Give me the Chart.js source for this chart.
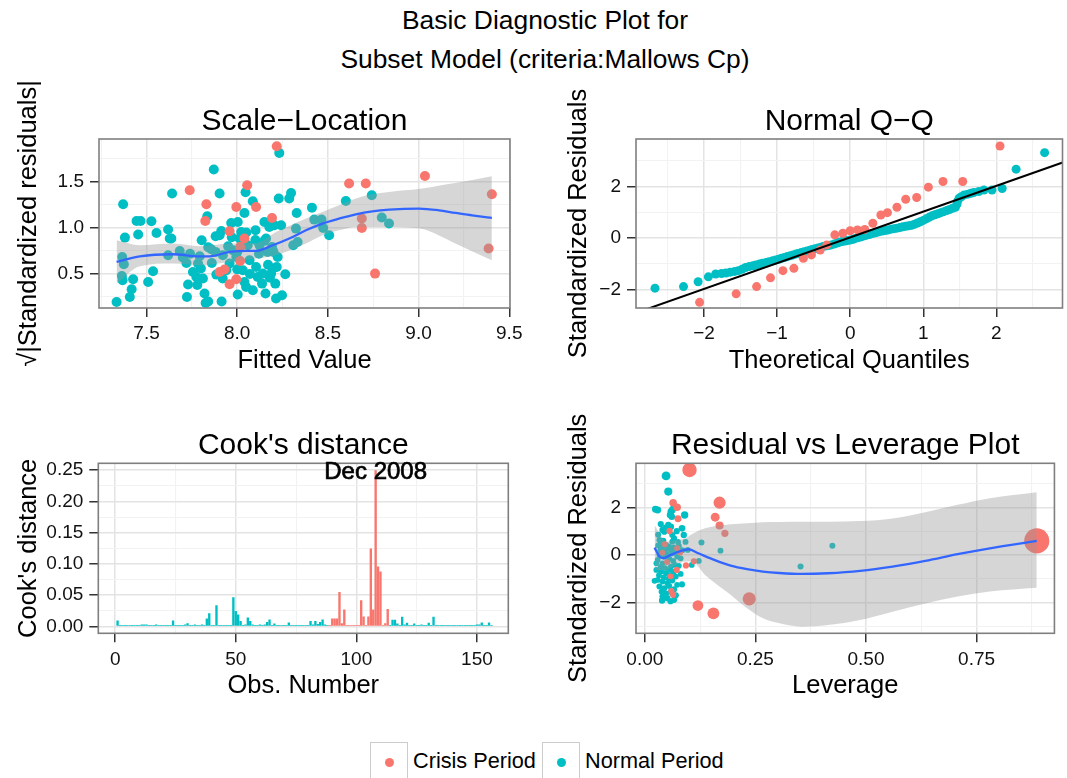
<!DOCTYPE html>
<html>
<head>
<meta charset="utf-8">
<title>Basic Diagnostic Plot</title>
<script src="https://cdn.jsdelivr.net/npm/chart.js"></script>
<style>
  body { margin: 0; background: #fff; width: 1067px; height: 778px; overflow: hidden; position: relative;
         font-family: 'Liberation Sans', Arial, sans-serif; }
  canvas { position: absolute; }
  .main { position: absolute; left: 545px; transform: translateX(-50%); white-space: nowrap;
          font-size: 26.4px; line-height: 1; color: #000; }
  .key { position: absolute; width: 38px; height: 40px; border: 1.4px solid #cccccc; box-sizing: border-box; background: #fff; }
  .key i { position: absolute; left: 13.5px; top: 14.5px; width: 9px; height: 9px; border-radius: 50%; }
  .lab { position: absolute; font-size: 21.7px; line-height: 1; color: #000; white-space: nowrap; }
</style>
</head>
<body>
<div class="main" style="top:7px">Basic Diagnostic Plot for</div>
<div class="main" style="top:46px">Subset Model (criteria:Mallows Cp)</div>

<canvas id="slChart" width="530" height="325" style="left:0;top:60px"></canvas>
<canvas id="qqChart" width="512" height="325" style="left:555px;top:60px"></canvas>
<canvas id="cookChart" width="530" height="315" style="left:0;top:395px"></canvas>
<canvas id="levChart" width="512" height="315" style="left:555px;top:395px"></canvas>

<script>
// ---------- data ----------
const periods = ['Crisis Period', 'Normal Period'];

// Scale-Location: [fitted value, sqrt(|standardized residual|)]
const slCrisis = [[7.738,1.410],[7.830,1.258],[7.824,1.076],[7.958,0.964],[7.995,1.228],[8.040,0.885],[8.055,1.464],[8.104,1.228],
  [8.192,1.109],[8.218,1.888],[8.016,0.793],[8.016,0.641],[7.930,0.548],[7.903,0.522],[7.958,0.388],[7.995,0.442],[8.617,1.483],
  [8.709,1.483],[8.687,1.102],[8.687,1.000],[8.760,0.504],[9.035,1.565],[9.404,1.366],[9.386,0.776]];
const slNormal = [[7.335,0.196],[7.371,1.258],[7.381,0.895],[7.366,0.685],[7.375,0.605],[7.364,0.478],[7.368,0.432],[7.408,0.250],
  [7.418,0.334],[7.426,0.442],[7.445,1.076],[7.467,1.076],[7.454,0.928],[7.527,1.073],[7.555,0.946],[7.509,0.413],[7.536,0.529],
  [7.619,0.983],[7.628,0.885],[7.637,0.885],[7.619,0.703],[7.641,1.374],[7.683,0.750],[7.720,0.620],[7.729,0.385],[7.723,0.250],
  [7.804,0.866],[7.756,0.522],[7.775,0.467],[7.784,0.613],[7.793,0.692],[7.811,0.450],[7.820,0.287],[7.826,0.185],[7.840,0.200],
  [7.835,1.127],[7.857,0.768],[7.871,1.635],[7.881,0.910],[7.903,1.374],[7.912,0.967],[7.903,0.921],[7.885,0.493],[7.914,0.200],
  [7.921,0.703],[7.940,0.540],[7.958,0.613],[7.967,1.054],[7.976,0.758],[7.995,0.685],[8.003,1.065],[8.003,0.276],[8.013,0.885],
  [8.022,0.957],[8.031,0.540],[8.040,0.413],[8.046,1.388],[8.040,1.163],[8.049,0.359],[8.058,0.812],[8.068,0.649],[8.086,1.290],
  [8.086,0.323],[8.101,0.975],[8.104,0.576],[8.113,0.467],[8.123,0.812],[8.137,0.395],[8.141,0.504],[8.150,1.065],[8.156,0.287],
  [8.159,0.885],[8.168,0.739],[8.177,1.011],[8.187,0.504],[8.192,0.793],[8.196,0.559],[8.205,1.029],[8.210,0.395],[8.214,0.233],
  [8.218,0.576],[8.223,0.685],[8.229,1.320],[8.232,1.815],[8.242,1.029],[8.247,0.268],[8.265,0.497],[8.287,1.320],[8.297,1.380],
  [8.309,0.812],[8.324,0.993],[8.328,1.163],[8.333,0.848],[8.412,1.221],[8.425,1.091],[8.465,1.091],[8.474,1.000],[8.507,0.921],
  [8.599,1.293],[8.742,1.355],[8.797,1.113],[8.837,1.048],[7.800,0.560],[7.840,0.790],[7.860,0.620],[7.880,0.740],[7.920,0.450],
  [7.950,0.800],[7.970,0.900],[8.000,0.550],[8.000,0.740],[8.050,0.950],[8.070,0.500],[8.100,0.870],[8.120,0.720],[8.150,0.860],
  [8.170,0.600],[8.180,0.460],[8.200,0.740],[7.780,0.380],[7.740,0.720],[7.700,0.680]];
const slFitX = [7.335,7.463,7.646,7.793,7.848,7.958,8.049,8.104,8.196,8.287,8.379,8.470,8.562,8.654,8.745,8.837,9.002,9.112,9.203,9.295,9.404];
const slFitY = [0.631,0.692,0.714,0.692,0.692,0.739,0.750,0.750,0.812,0.885,0.975,1.048,1.102,1.149,1.181,1.199,1.210,1.192,1.163,1.138,1.109];
const slBandX = [7.335,7.463,7.646,7.793,7.958,8.104,8.214,8.379,8.470,8.562,8.654,8.745,8.837,9.010,9.110,9.203,9.404];
const slBandHi = [0.866,0.812,0.830,0.801,0.830,0.837,0.957,1.102,1.174,1.246,1.320,1.366,1.392,1.425,1.460,1.489,1.562];
const slBandLo = [0.395,0.584,0.613,0.595,0.631,0.667,0.703,0.830,0.921,0.975,1.011,1.011,1.011,0.993,0.921,0.830,0.649];

// Normal Q-Q: [theoretical quantile, standardized residual]
const qqCrisis = [[-2.06,-2.50],[-1.56,-2.17],[-1.28,-1.89],[-1.09,-1.55],[-0.92,-1.27],[-0.77,-1.18],[-0.64,-0.79],[-0.53,-0.66],
  [-0.41,-0.47],[-0.32,-0.27],[-0.21,0.12],[-0.10,0.18],[0.00,0.28],[0.10,0.31],[0.20,0.33],[0.31,0.57],[0.42,0.89],[0.51,0.98],
  [0.64,1.19],[0.76,1.50],[0.91,1.57],[1.07,1.97],[1.27,2.19],[1.54,2.19],[2.05,3.57]];
const qqNormal = [[-2.67,-1.95],[-2.28,-1.89],[-2.08,-1.70],[-1.94,-1.51],[-1.84,-1.40],[-1.76,-1.38],[-1.70,-1.36],[-1.64,-1.33],
  [-1.58,-1.30],[-1.53,-1.27],[-1.48,-1.22],[-1.43,-1.15],[-1.38,-1.11],[-1.33,-1.08],[-1.29,-1.05],[-1.24,-1.01],[-1.20,-0.98],
  [-1.15,-0.95],[-1.11,-0.92],[-1.06,-0.89],[-1.02,-0.86],[-0.98,-0.83],[-0.94,-0.79],[-0.90,-0.76],[-0.86,-0.72],[-0.82,-0.69],
  [-0.78,-0.66],[-0.74,-0.62],[-0.71,-0.60],[-0.67,-0.57],[-0.63,-0.54],[-0.59,-0.51],[-0.55,-0.48],[-0.52,-0.45],[-0.48,-0.42],
  [-0.44,-0.39],[-0.40,-0.36],[-0.37,-0.33],[-0.33,-0.31],[-0.29,-0.29],[-0.26,-0.27],[-0.22,-0.24],[-0.18,-0.20],[-0.15,-0.17],
  [-0.11,-0.14],[-0.07,-0.12],[-0.04,-0.10],[0.00,-0.08],[0.04,-0.05],[0.07,-0.02],[0.11,0.01],[0.15,0.04],[0.18,0.07],[0.22,0.10],
  [0.26,0.13],[0.29,0.16],[0.33,0.19],[0.37,0.22],[0.40,0.25],[0.44,0.27],[0.48,0.29],[0.52,0.31],[0.56,0.34],[0.60,0.36],
  [0.64,0.38],[0.68,0.40],[0.72,0.43],[0.76,0.45],[0.80,0.47],[0.84,0.49],[0.88,0.53],[0.92,0.58],[0.96,0.63],[1.00,0.68],
  [1.04,0.74],[1.08,0.80],[1.12,0.86],[1.16,0.90],[1.20,0.94],[1.24,0.98],[1.28,1.02],[1.32,1.06],[1.36,1.10],[1.40,1.15],
  [1.44,1.19],[1.46,1.30],[1.47,1.42],[1.49,1.54],[1.52,1.60],[1.56,1.67],[1.61,1.70],[1.65,1.73],[1.69,1.76],[1.76,1.80],
  [1.83,1.86],[1.94,1.86],[2.08,1.92],[2.27,2.67],[2.66,3.31]];
const qqLineIntercept = 0.02;
const qqLineSlope = 1.0;

// Cook's distance by observation number 1..156
const cooksD = [
  0.0096,0.001,0.001,0.001,0.001,0.001,0.001,0.0016,0.0016,0.001,      // 1-10
  0.003,0.003,0.003,0.001,0.0016,0.001,0.003,0.001,0.001,0.001,        // 11-20
  0.001,0.001,0.001,0.0096,0.001,0.0016,0.001,0.001,0.003,0.005,       // 21-30
  0.001,0.001,0.003,0.001,0.001,0.003,0.001,0.0128,0.021,0.0016,       // 31-40
  0.001,0.0337,0.001,0.001,0.001,0.001,0.001,0.001,0.0465,0.0246,      // 41-50
  0.019,0.0085,0.001,0.003,0.0144,0.0085,0.003,0.001,0.001,0.003,      // 51-60
  0.001,0.003,0.007,0.011,0.001,0.0048,0.0016,0.001,0.0016,0.001,      // 61-70
  0.001,0.0064,0.001,0.001,0.001,0.0016,0.001,0.001,0.001,0.001,       // 71-80
  0.0085,0.003,0.0085,0.004,0.007,0.011,0.003,0.001,0.0016,0.0128,     // 81-90
  0.0128,0.0128,0.055,0.005,0.027,0.0016,0.0016,0.0016,0.0004,0.0004,  // 91-100
  0.0004,0.0417,0.016,0.0004,0.016,0.1245,0.027,0.25,0.096,0.088,      // 101-110
  0.0004,0.005,0.028,0.001,0.0107,0.0107,0.0045,0.001,0.0155,0.003,    // 111-120
  0.006,0.001,0.001,0.0045,0.0016,0.001,0.003,0.0016,0.001,0.006,      // 121-130
  0.001,0.0155,0.001,0.001,0.001,0.001,0.001,0.001,0.001,0.001,        // 131-140
  0.001,0.001,0.001,0.001,0.001,0.0016,0.001,0.001,0.001,0.003,        // 141-150
  0.003,0.0064,0.001,0.001,0.0064,0.001                                // 151-156
];
const crisisFrom = 89, crisisTo = 113;
const cookNote = {obs: 108, text: 'Dec 2008'};

// Residual vs Leverage: [leverage, standardized residual, cook's distance]
const levCrisis = [[0.886,0.59,0.25],[0.101,3.58,0.114],[0.236,-1.85,0.098],[0.169,2.20,0.086],[0.155,-2.46,0.082],
  [0.120,-2.13,0.068],[0.159,1.59,0.044],[0.169,1.24,0.035],[0.181,0.91,0.023],[0.064,2.20,0.028],[0.073,2.01,0.028],
  [0.075,1.52,0.020],[0.056,1.01,0.012],[0.072,-0.63,0.010],[0.093,-0.44,0.010],[0.111,-0.27,0.010],[0.060,-1.52,0.010],
  [0.064,-1.68,0.010],[0.073,0.28,0.008],[0.050,-0.30,0.005],[0.045,0.45,0.005],[0.080,0.10,0.006],[0.058,-0.90,0.005],
  [0.040,0.10,0.004]];
const levNormal = [[0.048,3.33,0.044],[0.053,2.67,0.035],[0.024,1.92,0.02],[0.029,1.89,0.02],[0.059,1.82,0.02],[0.062,1.89,0.02],
  [0.066,2.03,0.02],[0.057,1.68,0.016],[0.061,1.61,0.016],[0.090,1.68,0.025],[0.084,1.12,0.016],[0.088,0.84,0.012],
  [0.040,1.05,0.012],[0.044,0.98,0.01],[0.053,1.26,0.012],[0.059,1.19,0.012],[0.062,0.84,0.008],[0.066,0.70,0.008],
  [0.062,0.56,0.006],[0.033,0.63,0.008],[0.037,0.49,0.006],[0.039,0.32,0.005],[0.048,0.42,0.006],[0.051,0.28,0.005],
  [0.059,0.21,0.005],[0.066,0.32,0.005],[0.070,0.21,0.005],[0.077,0.38,0.006],[0.097,0.21,0.005],[0.128,0.52,0.008],
  [0.171,0.18,0.006],[0.106,-0.42,0.005],[0.122,-0.25,0.005],[0.033,0.00,0.004],[0.044,-0.07,0.004],[0.055,-0.14,0.004],
  [0.062,0.07,0.004],[0.073,-0.07,0.004],[0.081,-0.14,0.004],[0.029,-0.21,0.004],[0.040,-0.35,0.004],[0.051,-0.28,0.004],
  [0.059,-0.49,0.004],[0.068,-0.42,0.004],[0.077,-0.46,0.004],[0.026,-0.63,0.005],[0.037,-0.70,0.005],[0.048,-0.77,0.005],
  [0.059,-0.84,0.005],[0.070,-0.91,0.005],[0.081,-0.80,0.005],[0.029,-1.05,0.006],[0.040,-1.12,0.006],[0.051,-1.19,0.006],
  [0.062,-1.08,0.006],[0.073,-1.26,0.006],[0.084,-1.24,0.008],[0.022,-1.09,0.006],[0.033,-1.33,0.008],[0.044,-1.40,0.008],
  [0.055,-1.31,0.008],[0.066,-1.45,0.008],[0.059,-1.54,0.008],[0.040,-1.75,0.01],[0.051,-1.82,0.01],[0.062,-1.61,0.01],
  [0.066,-1.89,0.01],[0.039,-1.92,0.012],[0.352,-0.49,0.008],[0.424,0.39,0.008],[0.035,0.20,0.004],[0.045,0.15,0.004],
  [0.050,0.05,0.004],[0.055,0.35,0.004],[0.042,0.60,0.005],[0.030,0.40,0.005],[0.036,-0.50,0.004],[0.046,-0.55,0.004],
  [0.056,-0.62,0.004],[0.064,-0.25,0.004],[0.032,-0.85,0.005],[0.043,-0.95,0.005],[0.054,-1.00,0.005],[0.066,-0.70,0.005],
  [0.036,1.30,0.01],[0.047,1.15,0.01],[0.030,0.85,0.008],[0.072,1.00,0.01],[0.075,0.55,0.006],[0.038,-1.55,0.008],
  [0.048,-1.62,0.008],[0.058,-1.95,0.01],[0.070,-1.70,0.01],[0.026,-0.35,0.004],[0.085,0.20,0.005],[0.092,0.55,0.006]];
const levFitX = [0.022,0.033,0.042,0.055,0.077,0.099,0.121,0.157,0.194,0.231,0.267,0.304,0.355,0.414,0.487,0.560,0.634,0.707,0.780,0.886];
const levFitY = [0.31,-0.07,-0.14,-0.03,0.14,0.24,0.07,-0.21,-0.45,-0.60,-0.70,-0.76,-0.80,-0.77,-0.67,-0.49,-0.25,0.03,0.28,0.59];
const levBandX = [0.022,0.037,0.048,0.070,0.092,0.106,0.136,0.194,0.231,0.267,0.304,0.355,0.414,0.487,0.560,0.634,0.707,0.780,0.886];
const levBandHi = [1.26,0.77,0.56,0.63,0.70,0.87,1.12,1.29,1.34,1.38,1.39,1.40,1.40,1.43,1.54,1.80,2.11,2.39,2.64];
const levBandLo = [-0.63,-0.63,-0.63,-0.42,-0.28,-0.28,-0.84,-1.68,-2.25,-2.67,-2.88,-3.02,-2.95,-2.74,-2.39,-2.04,-1.75,-1.54,-1.38];

// axis ticks
const slTicksX = [7.5, 8.0, 8.5, 9.0, 9.5],  slMinorX = [7.25, 7.75, 8.25, 8.75, 9.25];
const slTicksY = [0.5, 1.0, 1.5],            slMinorY = [0.25, 0.75, 1.25, 1.75];
const qqTicksX = [-2, -1, 0, 1, 2],          qqMinorX = [-2.5, -1.5, -0.5, 0.5, 1.5, 2.5];
const qqTicksY = [-2, 0, 2],                 qqMinorY = [-1, 1, 3];
const cookTicksX = [0, 50, 100, 150],        cookMinorX = [25, 75, 125];
const cookTicksY = [0, 0.05, 0.10, 0.15, 0.20, 0.25], cookMinorY = [0.025, 0.075, 0.125, 0.175, 0.225];
const levTicksX = [0, 0.25, 0.5, 0.75],      levMinorX = [0.125, 0.375, 0.625, 0.875];
const levTicksY = [-2, 0, 2],                levMinorY = [-3, -1, 1, 3];

// ---------- styling ----------
const FONT = "'Liberation Sans', Arial, sans-serif";
const RED = '#F8766D', TEAL = '#00BFC4', BLUE = '#3366FF';
const RIBBON = 'rgba(153,153,153,0.4)';

const fmt = d => v => (v < 0 ? '\u2212' : '') + Math.abs(v).toFixed(d);
const pts = arr => arr.map(p => ({x: p[0], y: p[1], c: p[2]}));

function axis(o) {
  const marks = o.major.map(v => ({value: v, mj: true}))
    .concat(o.minor.map(v => ({value: v, mj: false})))
    .sort((a, b) => a.value - b.value);
  const horiz = o.position === 'bottom';
  return {
    type: 'linear',
    position: o.position,
    min: o.min,
    max: o.max,
    offset: false,
    afterBuildTicks: s => { s.ticks = marks.map(t => ({value: t.value, mj: t.mj})); },
    afterFit: s => { if (horiz) s.height = o.size; else s.width = o.size; },
    border: {display: false},
    grid: {
      offset: false,
      drawTicks: true,
      tickLength: 9,
      tickWidth: 1.5,
      color: c => (c.tick && c.tick.mj) ? '#e3e3e3' : '#f2f2f2',
      lineWidth: c => (c.tick && c.tick.mj) ? 1.5 : 1.1,
      tickColor: c => (c.tick && c.tick.mj) ? '#333333' : 'rgba(0,0,0,0)'
    },
    ticks: {
      autoSkip: false,
      maxRotation: 0,
      padding: horiz ? 7.5 : 6,
      color: '#111111',
      font: {family: FONT, size: 19, lineHeight: 1},
      callback: (v, i, ticks) => ticks[i].mj ? o.fmt(v) : ''
    },
    title: {
      display: true,
      text: o.title,
      color: '#000000',
      font: {family: FONT, size: 25.5, lineHeight: 1},
      padding: horiz ? {top: 0, bottom: 11} : {top: o.titlePad, bottom: 0}
    }
  };
}

// panel border, panel title and the optional text label
const panelDecor = {
  id: 'panelDecor',
  afterDraw(chart, args, opts) {
    const {ctx, chartArea: a} = chart;
    ctx.save();
    ctx.strokeStyle = '#7f7f7f';
    ctx.lineWidth = 1.6;
    ctx.strokeRect(a.left, a.top, a.right - a.left, a.bottom - a.top);
    ctx.fillStyle = '#000';
    ctx.textAlign = 'center';
    ctx.textBaseline = 'alphabetic';
    ctx.font = '30px ' + FONT;
    ctx.fillText(opts.title, (a.left + a.right) / 2, a.top - 9);
    if (opts.note) {
      const x = chart.scales.x.getPixelForValue(opts.note.x);
      const y = chart.scales.y.getPixelForValue(opts.note.y);
      ctx.font = '24px ' + FONT;
      ctx.textBaseline = 'middle';
      ctx.strokeStyle = '#000';
      ctx.lineWidth = 0.7;
      ctx.fillText(opts.note.text, x, y + 2);
      ctx.strokeText(opts.note.text, x, y + 2);
    }
    ctx.restore();
  }
};

function curve(xs, ys, extra) {
  return Object.assign({
    type: 'scatter',
    data: xs.map((x, i) => ({x: x, y: ys[i]})),
    showLine: true,
    pointRadius: 0,
    borderWidth: 0,
    borderColor: 'rgba(0,0,0,0)',
    fill: false,
    cubicInterpolationMode: 'monotone'
  }, extra);
}

function dots(arr, color, radius, order) {
  return {type: 'scatter', data: pts(arr), backgroundColor: color, borderColor: color,
          borderWidth: 0, pointRadius: radius, order: order};
}

function options(pad, x, y, title, note) {
  return {
    responsive: false, animation: false, devicePixelRatio: 1, events: [],
    layout: {padding: pad},
    plugins: {legend: {display: false}, tooltip: {enabled: false}, panelDecor: {title: title, note: note}},
    scales: {x: x, y: y}
  };
}

// ---------- Scale-Location ----------
new Chart(document.getElementById('slChart'), {
  type: 'scatter',
  data: {datasets: [
    curve(slBandX, slBandHi, {fill: '+1', backgroundColor: RIBBON, order: 2}),
    curve(slBandX, slBandLo, {order: 2}),
    curve(slFitX, slFitY, {borderColor: BLUE, borderWidth: 2.3, order: 1}),
    dots(slNormal, TEAL, 5, 4),
    dots(slCrisis, RED, 5, 3)
  ]},
  options: options({left: 0, right: 18, top: 79, bottom: 0},
    axis({position: 'bottom', min: 7.238, max: 9.504, major: slTicksX, minor: slMinorX, fmt: fmt(1), title: 'Fitted Value', size: 77}),
    axis({position: 'left', min: 0.13, max: 1.967, major: slTicksY, minor: slMinorY, fmt: fmt(1),
          title: '\u221A|Standardized residuals|', size: 99, titlePad: 16}),
    'Scale\u2212Location'),
  plugins: [panelDecor]
});

// ---------- Normal Q-Q ----------
const qqLineX = [-3.5, 3.5];
new Chart(document.getElementById('qqChart'), {
  type: 'scatter',
  data: {datasets: [
    curve(qqLineX, qqLineX.map(x => qqLineIntercept + qqLineSlope * x),
          {borderColor: '#000', borderWidth: 2, cubicInterpolationMode: 'default', order: 1}),
    dots(qqNormal, TEAL, 4.5, 4),
    dots(qqCrisis, RED, 4.5, 3)
  ]},
  options: options({left: 0, right: 0.3, top: 79, bottom: 0},
    axis({position: 'bottom', min: -2.93, max: 2.905, major: qqTicksX, minor: qqMinorX, fmt: fmt(0), title: 'Theoretical Quantiles', size: 77}),
    axis({position: 'left', min: -2.72, max: 3.84, major: qqTicksY, minor: qqMinorY, fmt: fmt(0),
          title: 'Standardized Residuals', size: 81, titlePad: 11}),
    'Normal Q\u2212Q'),
  plugins: [panelDecor]
});

// ---------- Cook's distance ----------
new Chart(document.getElementById('cookChart'), {
  type: 'bar',
  data: {datasets: [{
    data: cooksD.map((v, i) => ({x: i + 1, y: v})),
    backgroundColor: cooksD.map((v, i) => (i + 1 >= crisisFrom && i + 1 <= crisisTo) ? RED : TEAL),
    borderWidth: 0,
    categoryPercentage: 1,
    barPercentage: 0.98,
    minBarLength: 1.4
  }]},
  options: options({left: 0, right: 21.7, top: 68.3, bottom: 0},
    axis({position: 'bottom', min: -7, max: 163, major: cookTicksX, minor: cookMinorX, fmt: fmt(0), title: 'Obs. Number', size: 76.7}),
    axis({position: 'left', min: -0.011, max: 0.261, major: cookTicksY, minor: cookMinorY, fmt: fmt(2),
          title: "Cook's distance", size: 98.3, titlePad: 16}),
    "Cook's distance",
    {x: cookNote.obs, y: cooksD[cookNote.obs - 1], text: cookNote.text}),
  plugins: [panelDecor]
});

// ---------- Residual vs Leverage ----------
const levDots = (arr, color, order) => Object.assign(dots(arr, color, 3, order),
  {pointRadius: c => 2.7 + 39.5 * c.raw.c});
new Chart(document.getElementById('levChart'), {
  type: 'scatter',
  data: {datasets: [
    curve(levBandX, levBandHi, {fill: '+1', backgroundColor: RIBBON, order: 2}),
    curve(levBandX, levBandLo, {order: 2}),
    curve(levFitX, levFitY, {borderColor: BLUE, borderWidth: 2.3, order: 1}),
    levDots(levNormal, TEAL, 4),
    levDots(levCrisis, RED, 3)
  ]},
  options: options({left: 0, right: 0.3, top: 68.3, bottom: 0},
    axis({position: 'bottom', min: -0.02, max: 0.926, major: levTicksX, minor: levMinorX, fmt: fmt(2), title: 'Leverage', size: 76.7}),
    axis({position: 'left', min: -3.30, max: 3.86, major: levTicksY, minor: levMinorY, fmt: fmt(0),
          title: 'Standardized Residuals', size: 81, titlePad: 11}),
    'Residual vs Leverage Plot'),
  plugins: [panelDecor]
});

// ---------- legend ----------
const legendColors = [RED, TEAL];
const legendLeft = [370, 542];
periods.forEach((name, i) => {
  const key = document.createElement('div');
  key.className = 'key';
  key.style.left = legendLeft[i] + 'px';
  key.style.top = '742px';
  const dot = document.createElement('i');
  dot.style.background = legendColors[i];
  key.appendChild(dot);
  document.body.appendChild(key);
  const lab = document.createElement('div');
  lab.className = 'lab';
  lab.style.left = (legendLeft[i] + 43) + 'px';
  lab.style.top = '750px';
  lab.textContent = name;
  document.body.appendChild(lab);
});
</script>
</body>
</html>
